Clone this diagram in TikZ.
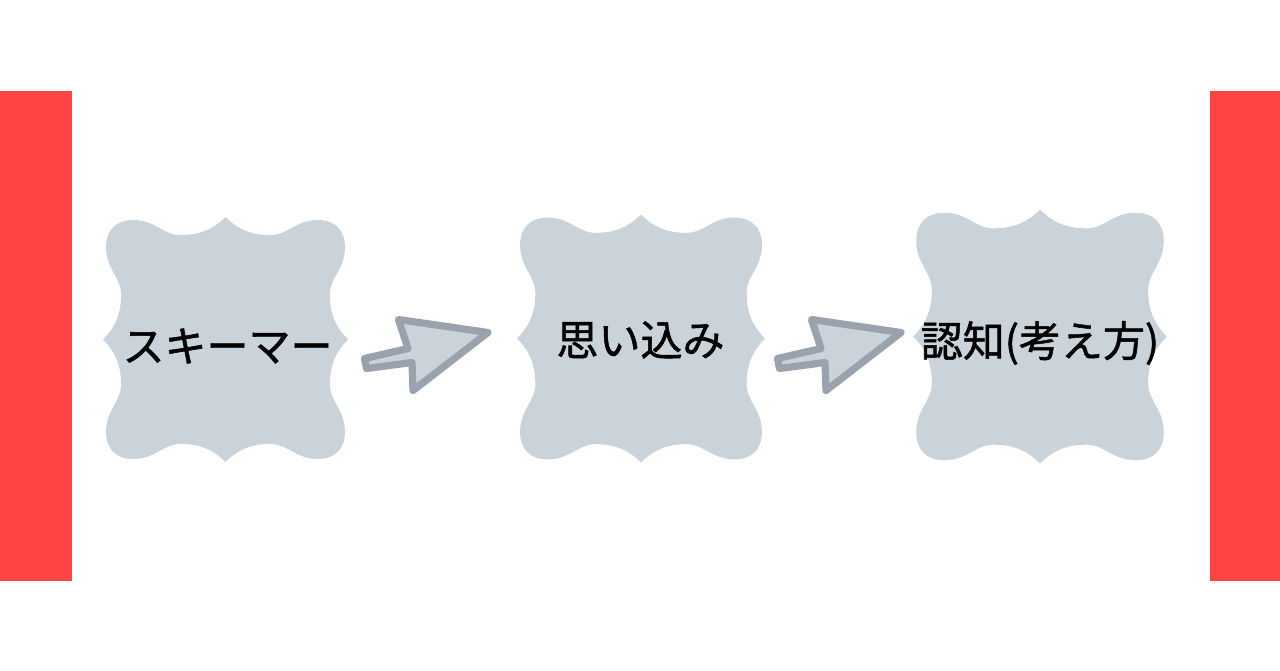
\documentclass[tikz,border=0pt]{standalone}
\usepackage{fontspec}
\newfontfamily\jp[FakeBold=1.2]{Noto Sans CJK JP}
\definecolor{barred}{RGB}{255,68,68}
\definecolor{boxfill}{RGB}{202,210,218}
\definecolor{arrowline}{RGB}{154,163,173}
\newcommand\plaquepath{%
(-122,0) .. controls (-108,-14) and (-104,-28) .. (-104,-45)
 .. controls (-104,-62) and (-119,-70) .. (-119,-92)
 .. controls (-119,-109) and (-109,-119) .. (-92,-119)
 .. controls (-70,-119) and (-62,-104) .. (-45,-104)
 .. controls (-28,-104) and (-14,-108) .. (0,-122)
 .. controls (14,-108) and (28,-104) .. (45,-104)
 .. controls (62,-104) and (70,-119) .. (92,-119)
 .. controls (109,-119) and (119,-109) .. (119,-92)
 .. controls (119,-70) and (104,-62) .. (104,-45)
 .. controls (104,-28) and (108,-14) .. (122,0)
 .. controls (108,14) and (104,28) .. (104,45)
 .. controls (104,62) and (119,70) .. (119,92)
 .. controls (119,109) and (109,119) .. (92,119)
 .. controls (70,119) and (62,104) .. (45,104)
 .. controls (28,104) and (14,108) .. (0,122)
 .. controls (-14,108) and (-28,104) .. (-45,104)
 .. controls (-62,104) and (-70,119) .. (-92,119)
 .. controls (-109,119) and (-119,109) .. (-119,92)
 .. controls (-119,70) and (-104,62) .. (-104,45)
 .. controls (-104,28) and (-108,14) .. (-122,0) -- cycle}
\newcommand\blockarrowpath{%
(364.5,358.5) -- (408,348.5) -- (398.5,319.5) -- (488,332.5) -- (413,390.5) -- (412,362.5) -- (366.5,368.5) -- cycle}
\tikzset{
  plaque/.style={fill=boxfill, draw=none},
  blockarrow/.style={fill=boxfill, draw=arrowline, line width=3.6pt, line join=round},
  label/.style={font=\jp\fontsize{21}{25}\selectfont, text=black, inner sep=0pt},
  bar/.style={fill=barred, draw=none}
}
\begin{document}
\begin{tikzpicture}[x=0.5pt,y=-0.5pt]
\useasboundingbox (0,0) rectangle (1280,670);
\fill[white] (0,0) rectangle (1280,670);
% side bars
\path[bar] (0,91) rectangle (72,581);
\path[bar] (1210,91) rectangle (1280,581);
% plaques
\begin{scope}[shift={(225.5,339.5)}, scale=1.004]
  \path[plaque] \plaquepath;
\end{scope}
\begin{scope}[shift={(641,338.5)}, scale=1.016]
  \path[plaque] \plaquepath;
\end{scope}
\begin{scope}[shift={(1040,336.5)}, scale=1.04]
  \path[plaque] \plaquepath;
\end{scope}
% block arrows
\path[blockarrow] \blockarrowpath;
\begin{scope}[shift={(413,0)}]
  \path[blockarrow] \blockarrowpath;
\end{scope}
% labels
\node[label] (t1) at (227.5,346) {スキーマー};
\node[label] (t2) at (640.5,340) {思い込み};
\node[label] (t3) at (1040,343) {認知(考え方)};
\end{tikzpicture}
\end{document}
